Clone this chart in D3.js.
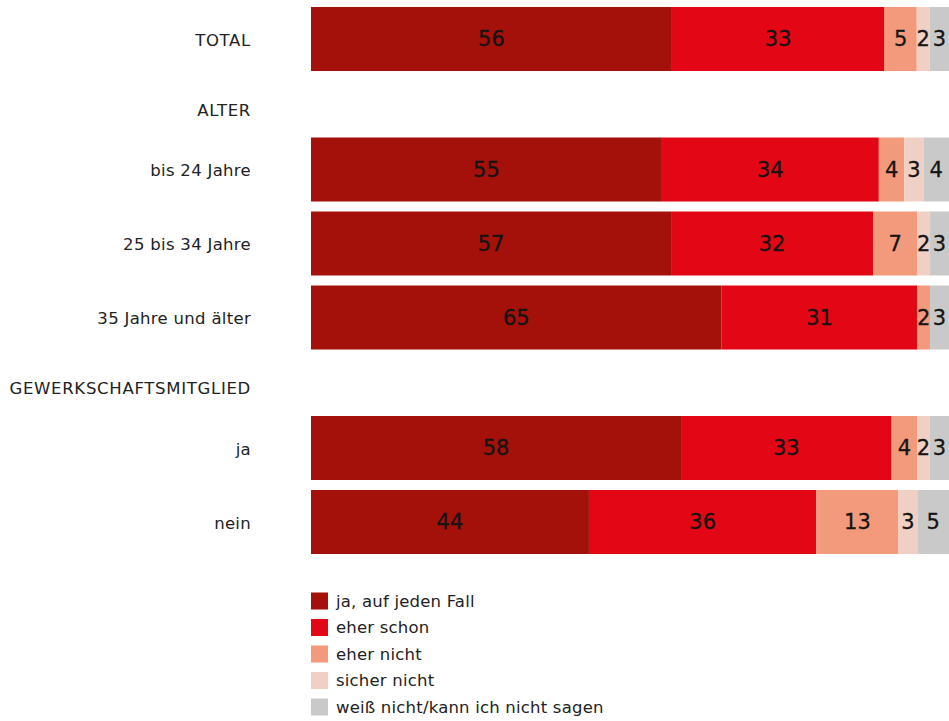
<!DOCTYPE html>
<html><head><meta charset="utf-8">
<script src="https://cdn.jsdelivr.net/npm/d3@7"></script>
<style>body{margin:0;background:#fff;} text{font-family:"DejaVu Sans",sans-serif;}</style>
</head><body><svg id="c" width="949" height="721"></svg>
<script>
const rowLabels = ["TOTAL","ALTER","bis 24 Jahre","25 bis 34 Jahre","35 Jahre und älter","GEWERKSCHAFTSMITGLIED","ja","nein"];
const rowIsHeader = [false,true,false,false,false,true,false,false];
const seriesNames = ["ja, auf jeden Fall","eher schon","eher nicht","sicher nicht","weiß nicht/kann ich nicht sagen"];
const seriesColors = ["#a3110a","#e30715","#f29a7b","#f0d0c4","#c9c9c9"];
const jaAufJedenFall = [56,null,55,57,65,null,58,44];
const eherSchon      = [33,null,34,32,31,null,33,36];
const eherNicht      = [5,null,4,7,2,null,4,13];
const sicherNicht    = [2,null,3,2,0,null,2,3];
const weissNicht     = [3,null,4,3,3,null,3,5];
const series = [jaAufJedenFall,eherSchon,eherNicht,sicherNicht,weissNicht];

const svg = d3.select("#c");
const left = 311, right = 949, barH = 64, barStep = 74, headStep = 56.5, top0 = 7;
const x = d3.scaleLinear().domain([0,1]).range([left,right]);

let yPos = [], cur = top0;
rowLabels.forEach((l,i)=>{ yPos.push(cur); cur += rowIsHeader[i] ? headStep : barStep; });

function label(t, y) {
  const caps = t === t.toUpperCase();
  svg.append("text").attr("x",251).attr("y",y).attr("text-anchor","end")
    .attr("dominant-baseline","central").attr("font-size",16.5)
    .attr("letter-spacing", caps ? 0.7 : 0.3).attr("fill","#222").text(t);
}

rowLabels.forEach((lab,i)=>{
  const y0 = yPos[i];
  if (rowIsHeader[i]) { label(lab, y0+29); return; }
  label(lab, y0+barH/2+1);
  const vals = series.map(s=>s[i]);
  const total = d3.sum(vals);
  let acc = 0;
  vals.forEach((v,k)=>{
    const a = acc/total, b = (acc+v)/total; acc += v;
    if (v<=0) return;
    svg.append("rect").attr("x",x(a)).attr("y",y0).attr("width",x(b)-x(a)).attr("height",barH)
      .attr("fill",seriesColors[k]);
    svg.append("text").attr("x",(x(a)+x(b))/2).attr("y",y0+barH/2).attr("text-anchor","middle")
      .attr("dominant-baseline","central").attr("font-size",21).attr("fill","#141414")
      .attr("stroke","#141414").attr("stroke-width",0.3).text(v);
  });
});

const lg = svg.append("g");
seriesNames.forEach((n,k)=>{
  const ly = 601 + k*26.5;
  lg.append("rect").attr("x",311).attr("y",ly-8.5).attr("width",17).attr("height",17).attr("fill",seriesColors[k]);
  lg.append("text").attr("x",336).attr("y",ly).attr("dominant-baseline","central")
    .attr("font-size",16.5).attr("letter-spacing",0.2).attr("fill","#222").text(n);
});
</script></body></html>
